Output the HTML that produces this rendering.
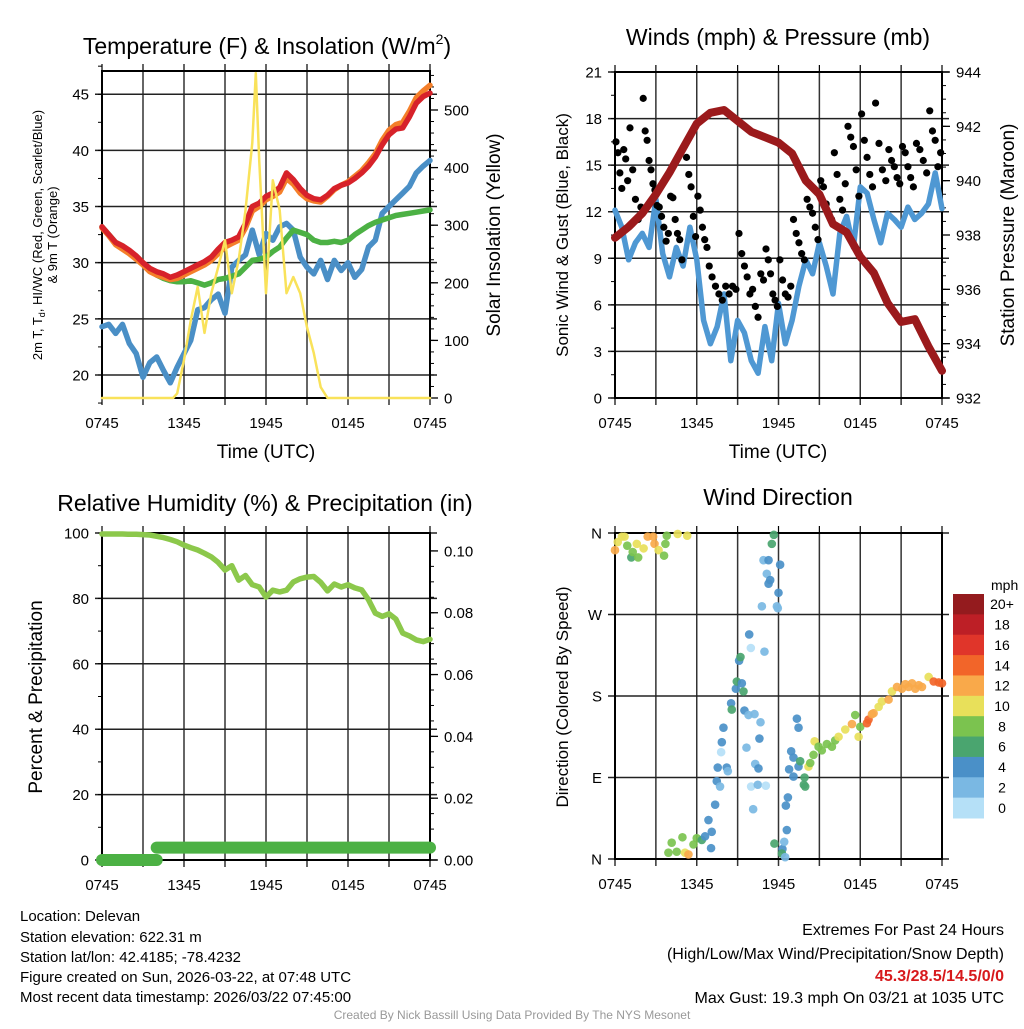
<!DOCTYPE html>
<html><head><meta charset="utf-8"><style>
html,body{margin:0;padding:0;background:#fff;}
svg text{font-family:"Liberation Sans",Arial,sans-serif;fill:#000;}
</style></head><body>
<svg id="chart" width="1024" height="1024" viewBox="0 0 1024 1024" xmlns="http://www.w3.org/2000/svg">
<rect width="1024" height="1024" fill="#fff"/>
<g id="layer"></g>
<text x="267" y="54" font-size="23" text-anchor="middle">Temperature (F) &amp; Insolation (W/m<tspan font-size="14" dy="-10">2</tspan><tspan dy="10">)</tspan></text>
<text x="778" y="45" font-size="23" text-anchor="middle">Winds (mph) &amp; Pressure (mb)</text>
<text x="265" y="511" font-size="23" text-anchor="middle">Relative Humidity (%) &amp; Precipitation (in)</text>
<text x="778" y="505" font-size="23" text-anchor="middle">Wind Direction</text>
<text x="266" y="458" font-size="19" text-anchor="middle">Time (UTC)</text>
<text x="778" y="458" font-size="19" text-anchor="middle">Time (UTC)</text>
<text transform="translate(42,235) rotate(-90)" font-size="13" text-anchor="middle">2m T, T<tspan font-size="9" dy="3">d</tspan><tspan dy="-3">, HI/WC (Red, Green, Scarlet/Blue)</tspan></text>
<text transform="translate(57,235) rotate(-90)" font-size="13" text-anchor="middle">&amp; 9m T (Orange)</text>
<text transform="translate(500,235) rotate(-90)" font-size="19" text-anchor="middle">Solar Insolation (Yellow)</text>
<text transform="translate(568,235) rotate(-90)" font-size="17" text-anchor="middle">Sonic Wind &amp; Gust (Blue, Black)</text>
<text transform="translate(1014,235) rotate(-90)" font-size="19" text-anchor="middle">Station Pressure (Maroon)</text>
<text transform="translate(42,697) rotate(-90)" font-size="19" text-anchor="middle">Percent &amp; Precipitation</text>
<text transform="translate(568,697) rotate(-90)" font-size="17" text-anchor="middle">Direction (Colored By Speed)</text>
<text x="991" y="590" font-size="14">mph</text>
<g font-size="15">
<text x="20" y="921">Location: Delevan</text>
<text x="20" y="942">Station elevation: 622.31 m</text>
<text x="20" y="962">Station lat/lon: 42.4185; -78.4232</text>
<text x="20" y="982">Figure created on Sun, 2026-03-22, at 07:48 UTC</text>
<text x="20" y="1002">Most recent data timestamp: 2026/03/22 07:45:00</text>
</g>
<g font-size="16" text-anchor="end">
<text x="1004" y="935">Extremes For Past 24 Hours</text>
<text x="1004" y="959">(High/Low/Max Wind/Precipitation/Snow Depth)</text>
<text x="1004" y="981" font-weight="bold" style="fill:#d7191c">45.3/28.5/14.5/0/0</text>
<text x="1004" y="1003">Max Gust: 19.3 mph On 03/21 at 1035 UTC</text>
</g>
<text x="512" y="1019" font-size="12" text-anchor="middle" style="fill:#999">Created By Nick Bassill Using Data Provided By The NYS Mesonet</text>
</svg>
<script>
// ---- data (hours since 0745 UTC) ----
const xTickLabels = ["0745","1345","1945","0145","0745"];
const halfHours = Array.from({length:49},(_, i)=>i*0.5);
const hourly = Array.from({length:25},(_, i)=>i);
const tempRed = [33.2,32.5,31.8,31.5,31.1,30.6,30.0,29.5,29.2,29.0,28.7,28.9,29.2,29.5,29.8,30.1,30.5,31.2,31.8,32.0,32.3,33.5,35.0,35.3,35.9,36.2,36.7,38.0,37.4,36.6,36.0,35.7,35.6,36.0,36.6,36.9,37.1,37.5,38.0,38.6,39.4,40.5,41.4,41.9,42.0,43.0,44.2,44.8,45.1];
const tempOrange = [33.1,32.4,31.6,31.2,30.8,30.3,29.8,29.2,28.9,28.7,28.5,28.6,28.9,29.2,29.5,29.8,30.2,30.8,31.4,31.7,32.0,33.1,34.6,35.0,35.6,35.9,36.3,37.5,37.0,36.2,35.7,35.5,35.4,35.9,36.5,36.9,37.2,37.7,38.2,38.9,39.7,40.9,41.8,42.3,42.5,43.5,44.7,45.3,45.8];
const tempGreen = [33.2,32.5,31.8,31.5,31.0,30.6,30.0,29.3,28.9,28.6,28.4,28.3,28.3,28.4,28.2,28.0,28.2,28.5,28.6,28.8,29.0,29.6,30.2,30.3,30.5,31.0,31.4,32.2,32.9,32.7,32.5,32.0,31.8,31.8,31.9,31.8,32.0,32.5,32.9,33.3,33.6,33.8,34.0,34.2,34.3,34.4,34.5,34.6,34.7];
const tempBlue = [24.3,24.5,23.7,24.5,22.8,21.9,19.8,21.1,21.6,20.4,19.3,20.7,21.9,23.1,25.8,26.0,26.7,27.2,25.5,29.6,30.2,30.7,32.9,30.7,32.6,32.0,33.2,33.5,32.9,30.5,29.6,29.0,30.2,28.5,30.2,29.3,30.0,28.7,29.4,31.4,32.0,34.4,35.0,35.6,36.2,36.8,38.0,38.6,39.1];
const solarTimes = [0,5.2,5.5,6,6.5,7,7.5,8,8.5,9,9.5,10,10.5,11,11.25,11.5,12,12.5,13,13.5,14,14.5,15,15.5,16,16.5,24];
const solarValues = [0,0,8,66,135,193,113,182,227,274,182,240,326,443,564,413,182,378,326,182,210,182,123,78,19,0,0];
const pressure = [937.9,938.3,938.8,939.5,940.3,941.2,942.1,942.5,942.6,942.2,941.8,941.6,941.4,941.0,940.0,939.5,938.4,938.1,937.2,936.6,935.5,934.8,934.9,933.9,933.0];
const windSpeed = [12.1,11.0,8.9,10.0,10.6,9.7,12.8,9.3,7.8,9.7,8.5,11.0,8.9,5.0,3.5,4.6,6.7,2.4,5.0,4.2,2.4,1.6,4.6,2.4,6.1,3.5,5.0,7.2,8.9,8.0,10.0,8.5,6.7,10.6,11.7,9.7,13.6,13.2,11.5,10.0,11.9,11.5,11.0,12.3,11.5,11.9,12.5,14.5,12.2];
const gustByHour = [[16.5,15.8,14.5,13.5,16.0,15.4,14.0],[17.4,14.7,12.8,11.5,12.3],[19.3,17.2,16.6,15.3,14.7,13.8,13.4],[12.4,12.3,11.7,11.0,10.1,10.6],[13.0,12.9,11.5,10.6,10.2,8.9],[16.2,15.5,14.4,13.6,11.7,10.4],[13.0,12.1,11.0,10.2,9.7,8.5],[7.8,7.2,6.7,6.3],[7.2,6.7,7.2,7.0],[10.6,9.3,8.5,7.8,6.7],[7.0,5.9,5.2,8.0,7.6],[9.6,8.9,8.0,6.7,6.3,5.9],[8.9,7.6,6.7,6.5,7.2],[11.5,10.6,10.0,9.3,8.9],[12.8,12.3,11.9,11.0,10.2],[14.0,13.6,12.5,11.9,11.5],[15.8,14.4,12.8,12.1,13.8],[17.5,16.8,16.2,14.7,13.0],[18.3,16.6,15.5,14.4,13.6],[19.0,16.4,14.7,14.0],[16.0,15.3,14.9,14.2,13.8],[16.2,15.8,14.9,14.2,13.6],[16.4,16.0,15.3,14.5],[18.5,17.2,16.6,14.9,15.8]];
const rh = [99.7,99.7,99.7,99.7,99.6,99.6,99.5,99.4,99.0,98.6,98.0,97.3,96.3,95.5,94.8,93.8,92.7,91.0,88.7,90.0,85.6,87.0,84.2,83.5,80.4,82.5,82.0,82.5,85.0,86.0,86.5,86.7,84.9,82.3,84.4,83.5,84.2,83.2,82.6,79.6,75.5,74.5,75.3,73.7,69.4,68.5,67.3,66.8,67.5];
const precipTimes = [0,4.0,4.0,24];
const precipValues = [0,0,0.004,0.004];
const dirTimes = [0.0,0.2,0.5,0.9,1.2,1.6,1.7,2.1,2.4,2.8,2.9,3.2,3.6,3.8,4.6,5.3,3.7,0.7,1.3,
3.92,4.16,4.53,4.95,5.14,5.39,5.76,6.0,6.37,6.61,6.86,7.10,7.05,7.35,7.47,7.71,7.54,8.2,8.28,7.84,7.79,7.96,8.52,8.57,8.87,8.94,9.31,9.43,9.11,9.21,9.85,9.97,10.97,9.5,9.8,10.24,10.68,10.6,9.65,10.29,10.53,9.99,10.48,11.07,10.14,
11.66,11.51,10.9,11.27,12.12,11.14,11.39,11.27,12.0,10.78,11.88,11.95,
11.7,12.29,12.25,12.49,12.42,12.61,12.54,12.69,
13.35,13.47,12.93,13.1,12.78,13.1,13.47,13.59,13.91,13.86,13.96,14.2,14.33,14.65,14.57,14.94,15.18,15.55,15.92,16.16,16.41,16.9,17.39,17.63,17.88,18.0,18.49,18.61,18.86,18.98,19.35,19.59,20.08,20.33,20.7,21.06,21.31,21.55,21.8,22.04,22.29,22.53,23.02,23.39,23.76,24.0];
const dirDegrees = [341,350,356,346,333,348,333,343,356,356,348,341,335,357,359,357,348,356,339,
7,18,8,24,7,5,16,23,21,25,43,30,12,60,86,80,101,101,97,129,118,145,172,165,188,196,194,185,219,223,248,233,229,164,159,160,151,133,123,105,100,80,82,81,55,
358,348,330,330,325,315,308,304,294,279,279,277,
17,11,6,2,19,32,59,68,
155,145,119,112,99,91,102,108,90,82,80,102,106,130,115,124,120,127,124,131,135,143,149,159,135,146,150,154,160,161,168,174,176,185,190,188,193,190,194,188,192,190,201,196,195,194];
const dirSpeeds = [12,11,10,8,6,10,8,10,12,12,13,10,8,8,10,10,8,10,8,
8,8,8,8,10,12,8,8,6,4,4,4,4,4,4,2,4,4,2,4,1,4,4,6,4,6,4,6,4,6,4,1,2,4,2,2,2,4,2,2,4,1,2,1,2,
6,6,2,4,4,2,4,4,4,2,2,2,
6,4,6,2,2,4,4,4,
4,4,4,4,4,4,4,6,6,6,6,10,8,10,8,8,8,8,8,8,10,10,12,8,10,8,14,14,12,12,10,10,12,10,12,12,12,12,12,12,12,12,10,14,14,14];
const cbLabels = ["20+","18","16","14","12","10","8","6","4","2","0"];
const cbColors = ["#941b1e","#bd1f26","#e0352a","#f26529","#f9a94a","#e8e05a","#7bc34f","#4aa56f","#4a90c8","#7ab8e3","#b5e0f7"];

// ---- helpers ----
const NS="http://www.w3.org/2000/svg";
const layer=document.getElementById('layer');
function mk(tag,attrs,parent){const e=document.createElementNS(NS,tag);for(const k in attrs)e.setAttribute(k,attrs[k]);(parent||layer).appendChild(e);return e;}
function panel(p){
  p.sx=t=>p.x0+(t/24)*(p.x1-p.x0);
  p.sy=v=>p.y1-(v-p.lmin)/(p.lmax-p.lmin)*(p.y1-p.y0);
  p.sr=v=>p.y1-(v-p.rmin)/(p.rmax-p.rmin)*(p.y1-p.y0);
  return p;
}
function frame(p,name,leftTicks,leftLabels,leftMinor,rightTicks,rightLabels,rightMinor){
  const g=mk('g',{});
  
  
  for(let h=0;h<=24;h+=3){const x=p.sx(h);mk('line',{x1:x,x2:x,y1:p.y0,y2:p.y1+7,stroke:'#333','stroke-width':1.5},g);mk('line',{x1:x,x2:x,y1:p.y0-7,y2:p.y0,stroke:'#000','stroke-width':1.2},g);}
  leftTicks.forEach((v,i)=>{const y=p.sy(v);mk('line',{x1:p.x0-7,x2:p.x1+7,y1:y,y2:y,stroke:'#222','stroke-width':1.5},g);
    const t=mk('text',{x:p.x0-13,y:y+5.5,'font-size':15,'text-anchor':'end'},g);t.textContent=leftLabels[i];});
  leftMinor.forEach(v=>{const y=p.sy(v);mk('line',{x1:p.x0-4,x2:p.x0,y1:y,y2:y,stroke:'#000','stroke-width':1},g);});
  rightTicks.forEach((v,i)=>{const y=p.sr(v);mk('line',{x1:p.x1,x2:p.x1+8,y1:y,y2:y,stroke:'#000','stroke-width':1.3},g);
    const t=mk('text',{x:p.x1+14,y:y+5.5,'font-size':15},g);t.textContent=rightLabels[i];});
  rightMinor.forEach(v=>{const y=p.sr(v);mk('line',{x1:p.x1,x2:p.x1+4,y1:y,y2:y,stroke:'#000','stroke-width':1},g);});
  mk('rect',{x:p.x0,y:p.y0,width:p.x1-p.x0,height:p.y1-p.y0,fill:'none',stroke:'#000','stroke-width':2},g);
  xTickLabels.forEach((l,i)=>{const t=mk('text',{x:p.sx(i*6),y:p.y1+30,'font-size':15,'text-anchor':'middle'},g);t.textContent=l;});
}
function line(times,vals,scale,p,color,w,name){
  const d=times.map((t,i)=>(i?'L':'M')+p.sx(t).toFixed(1)+','+scale(vals[i]).toFixed(1)).join('');
  const e=mk('path',{d:d,fill:'none',stroke:color,'stroke-width':w,'stroke-linejoin':'round','stroke-linecap':'round'});
  
  
  return e;
}
function range(a,b,s){const r=[];for(let v=a;v<=b+1e-9;v+=s)r.push(+v.toFixed(4));return r;}

// ---- Panel 1: temperature ----
const P1=panel({x0:102,x1:430,y0:71,y1:398,lmin:17.95,lmax:47.07,rmin:0,rmax:567.7});
const p1L=[20,25,30,35,40,45];
frame(P1,'temperature',p1L,p1L.map(String),range(17.5,47.5,2.5),range(0,500,100),range(0,500,100).map(String),range(0,560,20));
line(halfHours,tempBlue,P1.sy,P1,'#4a8fc6',5.5,'dewpoint-line');
line(halfHours,tempGreen,P1.sy,P1,'#4cb144',5.5,'heat-index-windchill-line');
line(halfHours,tempOrange,P1.sy,P1,'#f47f2a',5.5,'temp-9m-line');
line(halfHours,tempRed,P1.sy,P1,'#d7222a',5.5,'temp-2m-line');
line(solarTimes,solarValues,P1.sr,P1,'#f9e25a',2.5,'solar-insolation-line');

// ---- Panel 2: winds ----
const P2=panel({x0:615,x1:942,y0:72,y1:398,lmin:0,lmax:21,rmin:932,rmax:944});
const p2L=range(0,21,3);
frame(P2,'winds',p2L,p2L.map(String),range(0,21,1.5),range(932,944,2),range(932,944,2).map(String),range(932,944,0.5));
line(halfHours,windSpeed,P2.sy,P2,'#4f98d3',5.5,'sonic-wind-line');
gustByHour.forEach((arr,h)=>{arr.forEach((v,i)=>{
  const c=mk('circle',{cx:P2.sx(h+(i+0.5)/arr.length),cy:P2.sy(v),r:3.6,fill:'#000'});
  
  
});});
line(hourly,pressure,P2.sr,P2,'#9b1a1c',8,'pressure-line');

// ---- Panel 3: humidity ----
const P3=panel({x0:102,x1:430,y0:533,y1:860,lmin:0,lmax:100,rmin:0,rmax:0.1058});
const p3L=range(0,100,20);
frame(P3,'humidity',p3L,p3L.map(String),range(0,100,10),range(0,0.1,0.02),range(0,0.1,0.02).map(v=>v.toFixed(2)),range(0,0.104,0.005));
line(halfHours,rh,P3.sy,P3,'#8cc84b',5.5,'relative-humidity-line');
line(precipTimes.slice(0,2),precipValues.slice(0,2),P3.sr,P3,'#4cb144',12,'precip-line-start');
line(precipTimes.slice(2),precipValues.slice(2),P3.sr,P3,'#4cb144',12,'precip-line');

// ---- Panel 4: wind direction ----
const P4=panel({x0:615,x1:942,y0:533,y1:859,lmin:0,lmax:360,rmin:0,rmax:360});
frame(P4,'wind-direction',[0,90,180,270,360],['N','E','S','W','N'],[],[],[],[]);
function speedColor(s){const idx=Math.min(10,Math.floor(s/2));return cbColors[10-idx];}
dirTimes.forEach((t,i)=>{
  const c=mk('circle',{cx:P4.sx(t),cy:P4.sy(dirDegrees[i]),r:4.3,fill:speedColor(dirSpeeds[i]),'fill-opacity':0.92});
  
  
});
// colorbar
const cb=mk('g',{});


cbColors.forEach((col,i)=>{
  const h=224/cbColors.length;
  mk('rect',{x:953,y:594+i*h,width:31,height:h+0.5,fill:col},cb);
  const t=mk('text',{x:1002,y:594+(i+0.5)*h+5,'font-size':14,'text-anchor':'middle'},cb);t.textContent=cbLabels[i];
});
</script>
</body></html>
